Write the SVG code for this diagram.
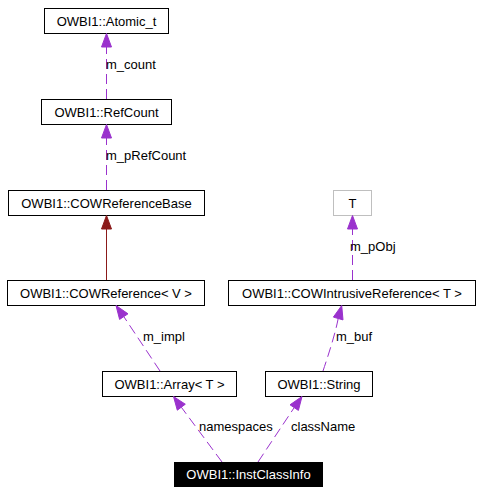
<svg xmlns="http://www.w3.org/2000/svg" width="480" height="493" viewBox="0 0 480 493">
<style>
.box{fill:#fff;stroke:#000;stroke-width:1}
.t{font-family:"Liberation Sans",Arial,sans-serif;font-size:13px;text-anchor:middle;fill:#000}
.lbl{font-family:"Liberation Sans",Arial,sans-serif;font-size:13px;fill:#000}
.use{fill:none;stroke:#9a32cd;stroke-width:1;stroke-dasharray:10,5}
.uh{fill:#9a32cd;stroke:#9a32cd}
.inh{fill:none;stroke:#8b1a1a;stroke-width:1}
.ih{fill:#8b1a1a;stroke:#8b1a1a}
</style>
<rect width="480" height="493" fill="#fff"/>
<g id="node-atomic"><rect class="box" x="44.5" y="8.5" width="124" height="25"/><text class="t" x="106.5" y="25.5">OWBI1::Atomic_t</text></g>
<g id="node-refcount"><rect class="box" x="41.5" y="99.5" width="130" height="25"/><text class="t" x="106.5" y="116.5">OWBI1::RefCount</text></g>
<g id="node-cowrefbase"><rect class="box" x="8.5" y="190.5" width="196" height="25"/><text class="t" x="106.5" y="207.5">OWBI1::COWReferenceBase</text></g>
<g id="node-cowref"><rect class="box" x="7.5" y="280.5" width="197" height="25"/><text class="t" x="106" y="297.5">OWBI1::COWReference&lt; V &gt;</text></g>
<g id="node-T"><rect x="333.5" y="190.5" width="38" height="25" fill="#fff" stroke="#bfbfbf"/><text class="t" x="352.5" y="207.5">T</text></g>
<g id="node-cowintrusive"><rect class="box" x="228.5" y="280.5" width="247" height="25"/><text class="t" x="352" y="297.5">OWBI1::COWIntrusiveReference&lt; T &gt;</text></g>
<g id="node-array"><rect class="box" x="102.5" y="371.5" width="134" height="25"/><text class="t" x="169.5" y="388.5">OWBI1::Array&lt; T &gt;</text></g>
<g id="node-string"><rect class="box" x="265.5" y="371.5" width="107" height="25"/><text class="t" x="319" y="388.5">OWBI1::String</text></g>
<g id="node-instclassinfo"><rect x="174" y="462" width="149" height="25" fill="#000"/><text class="t" x="248.5" y="479" style="fill:#fff">OWBI1::InstClassInfo</text></g>
<g id="connectors">
<path class="use" d="M106.5,99 L106.5,47"/>
<polygon class="uh" points="106.5,33.5 101.5,47 111.5,47"/>
<text class="lbl" x="106" y="69">m_count</text>
<path class="use" d="M106.5,190 L106.5,138"/>
<polygon class="uh" points="106.5,124.5 101.5,138 111.5,138"/>
<text class="lbl" x="106" y="160">m_pRefCount</text>
<path class="inh" d="M106.5,280 L106.5,229"/>
<polygon class="ih" points="106.5,215.5 101.5,229 111.5,229"/>
<path class="use" d="M160,371 L123.8,316.6"/>
<polygon class="uh" points="116,305.5 128,313.8 119.6,319.4"/>
<text class="lbl" x="143" y="341">m_impl</text>
<path class="use" d="M222,462 L181.3,407.2"/>
<polygon class="uh" points="173.5,396.5 185.3,404.2 177.3,410.2"/>
<text class="lbl" x="199" y="431">namespaces</text>
<path class="use" d="M352.5,280 L352.5,229"/>
<polygon class="uh" points="352.5,215.5 347.5,229 357.5,229"/>
<text class="lbl" x="350" y="251">m_pObj</text>
<path class="use" d="M323,371 C328,356 335,335 338.2,318.5"/>
<polygon class="uh" points="341.7,305.5 343,319.9 333.4,317.1"/>
<text class="lbl" x="336" y="341">m_buf</text>
<path class="use" d="M258,462 L294.2,407.6"/>
<polygon class="uh" points="302,396.5 298.4,410.4 290,404.8"/>
<text class="lbl" x="291" y="431">className</text>
</g>
</svg>
